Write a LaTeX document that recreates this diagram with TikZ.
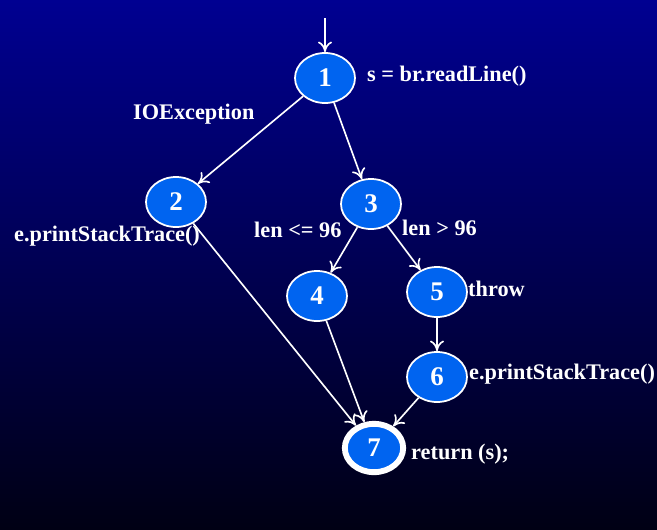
\documentclass[tikz,border=0pt]{standalone}
\usepackage{fontspec}
\setmainfont{Liberation Serif}
\usetikzlibrary{shapes.geometric,arrows.meta}
\definecolor{topc}{RGB}{0,0,145}
\definecolor{botc}{RGB}{0,0,20}
\definecolor{nodec}{RGB}{0,100,240}
\begin{document}
\begin{tikzpicture}[x=0.03cm,y=-0.03cm,
  vtx/.style={ellipse,draw=white,line width=1.5pt,fill=nodec,minimum width=1.8cm,minimum height=1.5cm,inner sep=0pt,text=white,font=\bfseries\fontsize{23}{24}\selectfont},
  lbl/.style={text=white,font=\bfseries\fontsize{19}{20}\selectfont,inner sep=0pt},
  arr/.style={white,line width=1.4pt,-{To[length=9pt,width=12pt]}}]
\useasboundingbox (0,0) rectangle (657,529);
\shade[top color=topc,bottom color=botc] (0,0) rectangle (657,529);
\node[vtx] (n1) at (325,78) {1};
\node[vtx] (n2) at (176,202) {2};
\node[vtx] (n3) at (371,204) {3};
\node[vtx] (n4) at (317,296) {4};
\node[vtx] (n5) at (437,292) {5};
\node[vtx] (n6) at (437,377) {6};
\node[vtx,line width=5pt,minimum width=1.75cm,minimum height=1.45cm] (n7) at (374,448) {7};
\coordinate (top) at (325,18);
\draw[arr] (top) -- (n1);
\draw[arr] (n1) -- (n2);
\draw[arr] (n1) -- (n3);
\draw[arr] (n3) -- (n4);
\draw[arr] (n3) -- (n5);
\draw[arr] (n5) -- (n6);
\draw[arr] (n2) -- (n7);
\draw[arr] (n4) -- (n7);
\draw[arr] (n6) -- (n7);
\node[lbl,anchor=west] (l1) at (367,76) {s = br.readLine()};
\node[lbl,anchor=west] (l2) at (133,114) {IOException};
\node[lbl,anchor=west] (l3) at (14,236) {e.printStackTrace()};
\node[lbl,anchor=west] (l4) at (254,230) {len <= 96};
\node[lbl,anchor=west] (l5) at (402,228) {len > 96};
\node[lbl,anchor=west] (l6) at (468,289) {throw};
\node[lbl,anchor=west] (l7) at (469,374) {e.printStackTrace()};
\node[lbl,anchor=west] (l8) at (411,454) {return (s);};
\end{tikzpicture}
\end{document}
